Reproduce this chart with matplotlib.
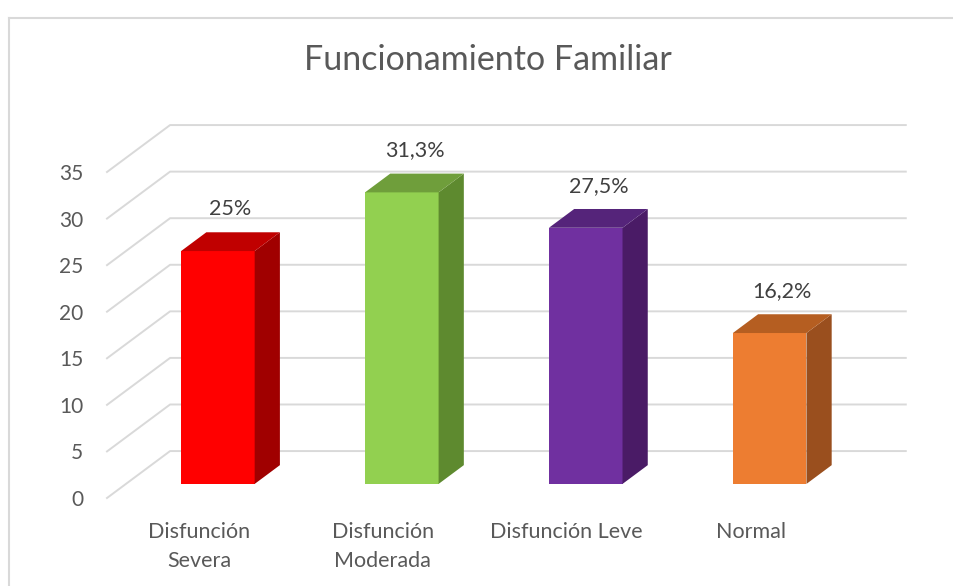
import matplotlib
matplotlib.use("Agg")
import matplotlib.pyplot as plt
from matplotlib.patches import Polygon
from matplotlib.lines import Line2D

# data
categories = ["Disfunción\nSevera", "Disfunción\nModerada", "Disfunción Leve", "Normal"]
values = [25, 31.3, 27.5, 16.2]
value_labels = ["25%", "31,3%", "27,5%", "16,2%"]
yticks = [0, 5, 10, 15, 20, 25, 30, 35]

front_colors = ["#FF0000", "#92D050", "#7030A0", "#ED7D31"]
top_colors = ["#C00000", "#6F9E3B", "#55247A", "#B55E21"]
side_colors = ["#A00000", "#5E8A2F", "#4A1B66", "#9A4F1E"]

plt.rcParams["font.family"] = ["Lato", "DejaVu Sans"]

# fake 3d depth (x in category units, y in value units)
DX = 0.343
DY = 5.04
D0, D1 = 0.3, 0.7
HALF = 0.2
GRID = "#D9D9D9"

fig = plt.figure(figsize=(9.54, 5.86), dpi=100)
W, H = 954, 586
ax = fig.add_axes([107 / W, (586 - 498) / H, (842.7 - 107) / W, (498 - 172) / H])
ax.set_xlim(-0.5, 3.5)
ax.set_ylim(0, 35)
for s in ax.spines.values():
    s.set_visible(False)

# wall gridlines
for v in yticks:
    ax.plot([-0.5, -0.5 + DX, 3.5 + DX], [v, v + DY, v + DY],
            color=GRID, lw=1.4, clip_on=False, zorder=1)

for i, v in enumerate(values):
    xl = i - HALF + D0 * DX
    xr = i + HALF + D0 * DX
    y0 = D0 * DY
    yt = v + y0
    ddx = (D1 - D0) * DX
    ddy = (D1 - D0) * DY
    ax.add_patch(Polygon([(xl, y0), (xr, y0), (xr, yt), (xl, yt)],
                         closed=True, fc=front_colors[i], ec="none", clip_on=False, zorder=3))
    ax.add_patch(Polygon([(xr, y0), (xr + ddx, y0 + ddy), (xr + ddx, yt + ddy), (xr, yt)],
                         closed=True, fc=side_colors[i], ec="none", clip_on=False, zorder=3))
    ax.add_patch(Polygon([(xl, yt), (xl + ddx, yt + ddy), (xr + ddx, yt + ddy), (xr, yt)],
                         closed=True, fc=top_colors[i], ec="none", clip_on=False, zorder=3))
    ax.text(i + 0.5 * DX, v + 6.0, value_labels[i], ha="center", va="center",
            fontsize=15.5, color="#404040", zorder=4)

ax.set_yticks(yticks)
ax.set_yticklabels([str(t) for t in yticks])
ax.set_xticks(range(len(categories)))
ax.set_xticklabels(categories, linespacing=1.6, va="top")
ax.tick_params(axis="y", length=0, pad=17, labelsize=15, labelcolor="#595959")
ax.tick_params(axis="x", length=0, pad=17, labelsize=15.5, labelcolor="#595959")

fig.text(488 / W, 1 - 60 / H, "Funcionamiento Familiar", ha="center", va="center",
         fontsize=24.5, color="#595959")

# chart frame
fig.add_artist(Line2D([9.5 / W, 9.5 / W], [0, 1 - 18 / H], color=GRID, lw=1.5))
fig.add_artist(Line2D([9.5 / W, 1], [1 - 18 / H, 1 - 18 / H], color=GRID, lw=1.5))

fig.savefig("out.png", dpi=100)
